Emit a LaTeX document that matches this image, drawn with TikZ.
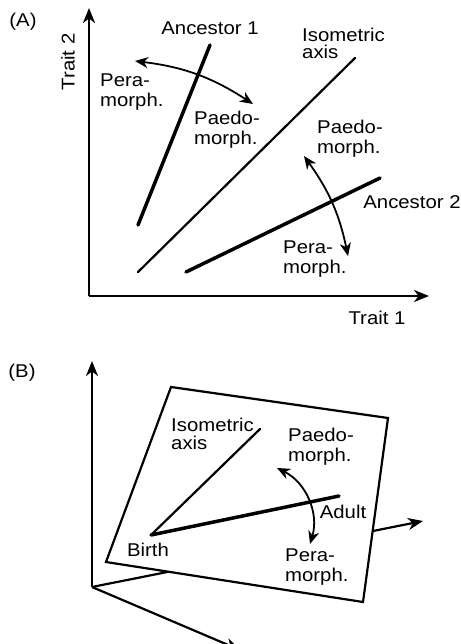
\documentclass[tikz,border=0pt]{standalone}
\usepackage{fontspec}
\setmainfont{Liberation Sans}[FakeStretch=1.1]
\usetikzlibrary{arrows.meta}
\begin{document}
\begin{tikzpicture}[x=1pt,y=-1pt,
  lbl/.style={inner sep=0pt,font=\fontsize{18.5}{20}\selectfont},
  lbll/.style={lbl,align=left,anchor=west},
  axisline/.style={line width=2.2pt,-{Stealth[length=15pt,width=12pt,inset=4.5pt]}},
  thickline/.style={line width=3.5pt,line cap=round},
  isoline/.style={line width=2.2pt,line cap=round},
  dblarrow/.style={line width=1.8pt,{Stealth[length=13pt,width=11pt,inset=4pt]}-{Stealth[length=13pt,width=11pt,inset=4pt]}},
  plane/.style={fill=white,draw=black,line width=2.2pt,line join=miter}]
\useasboundingbox (0,0) rectangle (460,644);
% ---------- Panel A ----------
\node[lbl] (labA) at (23,22) {(A)};
\coordinate (oA) at (89,296);
\coordinate (yA) at (89,8);
\coordinate (xA) at (429,296);
\draw[axisline] (oA) -- (yA);
\draw[axisline] (oA) -- (xA);
\node[lbl,rotate=90] (t2) at (68,62) {Trait 2};
\node[lbl] (t1) at (377,318) {Trait 1};
% lines
\coordinate (a1s) at (138,225);
\coordinate (a1e) at (210,45);
\draw[thickline] (a1s) -- (a1e);
\coordinate (ias) at (138,272);
\coordinate (iae) at (355,58);
\draw[isoline] (ias) -- (iae);
\coordinate (a2s) at (186,272);
\coordinate (a2e) at (380,178);
\draw[thickline] (a2s) -- (a2e);
\node[lbl] (anc1) at (210,28) {Ancestor 1};
\node[lbl] (anc2) at (412,202) {Ancestor 2};
\node[lbll,font=\fontsize{18.5}{17}\selectfont] (isoA) at (302,43) {Isometric\\axis};
\node[lbll] (peraA1) at (100,92) {Pera-\\morph.};
\node[lbll] (paedA1) at (194,130) {Paedo-\\morph.};
\node[lbll] (paedA2) at (317,138.5) {Paedo-\\morph.};
\node[lbll] (peraA2) at (283,259) {Pera-\\morph.};
\coordinate (c1s) at (135,61);
\coordinate (c1e) at (253,104);
\draw[dblarrow] (c1s) to[bend left=13] (c1e);
\coordinate (c2s) at (304,156);
\coordinate (c2e) at (348,256);
\draw[dblarrow] (c2s) to[bend left=12] (c2e);
% ---------- Panel B ----------
\node[lbl] (labB) at (22,373) {(B)};
\coordinate (oB) at (92,587);
\coordinate (yB) at (92,361);
\coordinate (xB) at (423,521);
\coordinate (zB) at (240,650);
\draw[axisline] (oB) -- (yB);
\draw[axisline] (oB) -- (zB);
\draw[axisline] (oB) -- (xB);
\coordinate (p1) at (171,387);
\coordinate (p2) at (388,418);
\coordinate (p3) at (363,602);
\coordinate (p4) at (106,562);
\draw[plane] (p1) -- (p2) -- (p3) -- (p4) -- cycle;
\coordinate (birth) at (151,535);
\coordinate (isoB) at (260,429);
\coordinate (adult) at (339,496);
\draw[isoline] (birth) -- (isoB);
\draw[thickline] (birth) -- (adult);
\node[lbll,font=\fontsize{18.5}{18}\selectfont] (isoBt) at (171,434) {Isometric\\axis};
\node[lbll] (paedB) at (288,447) {Paedo-\\morph.};
\node[lbll] (peraB) at (285,567.5) {Pera-\\morph.};
\node[lbl] (adultt) at (343,512) {Adult};
\node[lbl] (birtht) at (148,550) {Birth};
\coordinate (cbs) at (277,468);
\coordinate (cbe) at (310,544);
\draw[dblarrow] (cbs) to[bend left=40] (cbe);
\end{tikzpicture}
\end{document}
